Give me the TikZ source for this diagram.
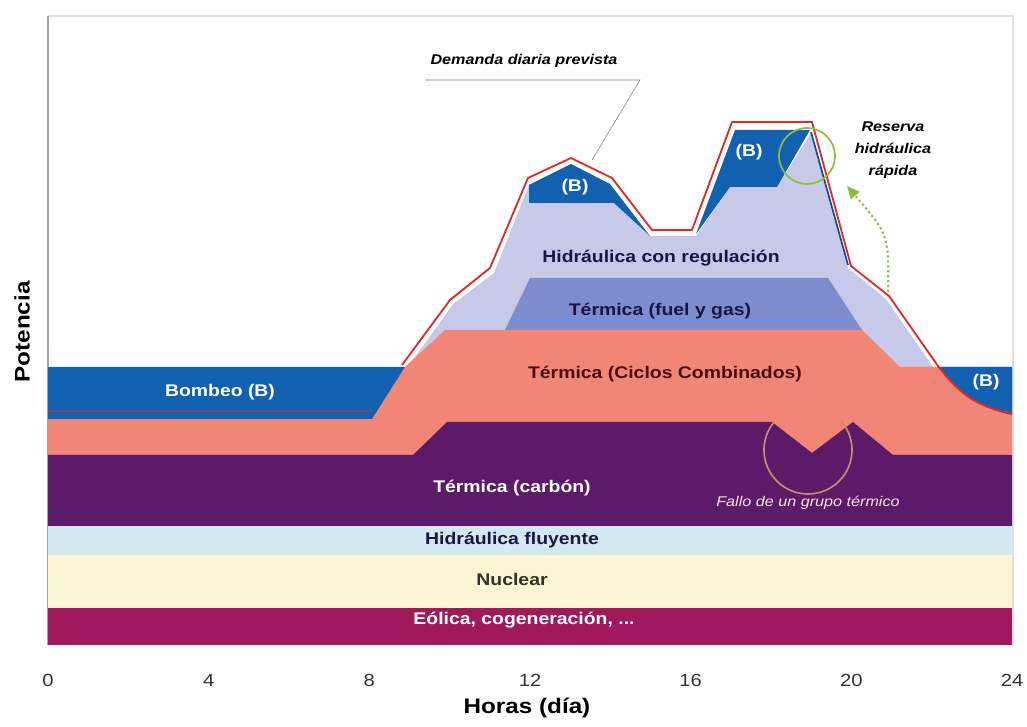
\documentclass[tikz,border=0pt]{standalone}
\usepackage{fontspec}
\setmainfont{Liberation Sans}[FakeStretch=1.15]
\usepackage{tikz}
\usetikzlibrary{arrows.meta}
\definecolor{cbomb}{RGB}{18,96,176}
\definecolor{csalm}{RGB}{242,134,118}
\definecolor{cperi}{RGB}{124,140,204}
\definecolor{clav}{RGB}{198,202,232}
\definecolor{ccarb}{RGB}{92,26,104}
\definecolor{cfluy}{RGB}{210,233,241}
\definecolor{cnucl}{RGB}{250,246,212}
\definecolor{ceol}{RGB}{158,26,90}
\definecolor{cdem}{RGB}{228,40,40}
\definecolor{cgreen}{RGB}{140,190,60}
\definecolor{ctan}{RGB}{200,140,110}
\definecolor{cnavy}{RGB}{22,22,72}
\definecolor{cmaroon}{RGB}{72,12,12}
\tikzset{lbl/.style={font=\bfseries\fontsize{12}{14}\selectfont},
  note/.style={font=\bfseries\itshape\fontsize{10}{15.5}\selectfont},
  axl/.style={font=\bfseries\fontsize{15}{17}\selectfont}}

\begin{document}
\begin{tikzpicture}[x=0.025cm,y=-0.025cm]
        \useasboundingbox (0,0) rectangle (1027,727);
        \draw[gray!25,line width=1.5pt] (48,16) -- (1013,16) -- (1013,645);
        \draw[gray!70,line width=1pt] (48,16) -- (48,645);
        % hidraulica con regulacion
        \fill[clav] (408,367) -- (453,304) -- (494,273) -- (529,185) -- (529,203) -- (614,203)
          -- (650,236) -- (696,236) -- (730,187) -- (777,187) -- (811,133) -- (848,268)
          -- (886,299) -- (933,367) -- cycle;
        % bombeo en las puntas
        \fill[cbomb] (529,185) -- (571,164) -- (610,184) -- (650,236) -- (614,203) -- (529,203) -- cycle;
        \fill[cbomb] (696,234) -- (735,130) -- (810,130) -- (777,187) -- (730,187) -- cycle;
        \draw[cbomb!80!black,line width=1.2pt] (811,132) -- (848,265);
        % termica fuel y gas, ciclos combinados
        \fill[cperi] (505,330) -- (530,278) -- (828,278) -- (862,330) -- cycle;
        \fill[csalm] (48,419) -- (372,419) -- (405,367) -- (445,330) -- (862,330) -- (900,367)
          -- (1012,367) -- (1012,455) -- (48,455) -- cycle;
        % bombeo
        \fill[cbomb] (48,367) -- (405,367) -- (372,419) -- (48,419) -- cycle;
        \fill[cbomb] (938,367) -- (1012,367) -- (1012,415) .. controls (975,407) and (958,392) .. (938,367) -- cycle;
        % carbon
        \fill[ccarb] (48,455) -- (413,455) -- (447,422) -- (772,422) -- (812,453) -- (853,422)
          -- (893,455) -- (1012,455) -- (1012,526) -- (48,526) -- cycle;
        \fill[cfluy] (48,526) rectangle (1012,555);
        \fill[cnucl] (48,555) rectangle (1012,608);
        \fill[ceol] (48,608) rectangle (1012,645);
        % demanda
        \draw[cdem!45!cbomb,line width=0.8pt] (48,411) -- (372,411);
        \draw[cdem,line width=1.3pt,line join=round] (402,365) -- (450,300) -- (490,268) -- (528,178)
          -- (571,158) -- (612,178) -- (652,230) -- (692,230) -- (732,122) -- (812,122) -- (851,266)
          -- (889,296) -- (938,366) .. controls (958,392) and (975,407) .. (1012,413);
        % marcas
        \draw[cgreen,line width=1.2pt] (807,156) circle[radius=28];
        \draw[ctan,line width=1.2pt] (808,450) ++(-40:44) arc[start angle=-40,end angle=220,radius=44];
        % textos
        \node[lbl,white] (bomb) at (220,392) {Bombeo (B)};
        \node[lbl,white] (b1) at (575,187) {(B)};
        \node[lbl,white] (b2) at (749,152) {(B)};
        \node[lbl,white] (b3) at (986,382) {(B)};
        \node[lbl,cnavy] (hreg) at (661,258) {Hidráulica con regulación};
        \node[lbl,cnavy] (tfuel) at (660,311) {Térmica (fuel y gas)};
        \node[lbl,cmaroon] (tcc) at (665,374) {Térmica (Ciclos Combinados)};
        \node[lbl,white] (tcarb) at (512,488) {Térmica (carbón)};
        \node[lbl,cnavy] (hfluy) at (512,540) {Hidráulica fluyente};
        \node[lbl,black!85!olive] (nucl) at (512,579) {Nuclear};
        \node[lbl,white] (eol) at (524,620) {Eólica, cogeneración, ...};
        \node[note] (dem) at (524,61) {Demanda diaria prevista};
        \node[note,align=center] (res) at (893,150) {Reserva\\hidráulica\\rápida};
        \node[font=\itshape\fontsize{10}{12}\selectfont,text=pink!40] (fallo) at (808,503) {Fallo de un grupo térmico};
        % llamadas
        \coordinate (l1) at (425,80);
        \coordinate (l2) at (640,80);
        \coordinate (dpt) at (592,160);
        \draw[gray] (l1) -- (l2) -- (dpt);
        \coordinate (ra) at (888,292);
        \coordinate (rb) at (847,186);
        \draw[cgreen,line width=1.5pt,dotted,-{Triangle[length=9pt,width=8pt]}] (ra) .. controls (889,235) .. (rb);
        % ejes
        \foreach \h in {0,4,...,24}
          {\node[font=\fontsize{12.5}{14}\selectfont,text=black!80] (t\h) at ({48+40.17*\h},680) {\h};}
        \node[axl] (horas) at (527,708) {Horas (día)};
        \node[axl,rotate=90] (pot) at (22,332) {Potencia};
      \end{tikzpicture}
\end{document}
